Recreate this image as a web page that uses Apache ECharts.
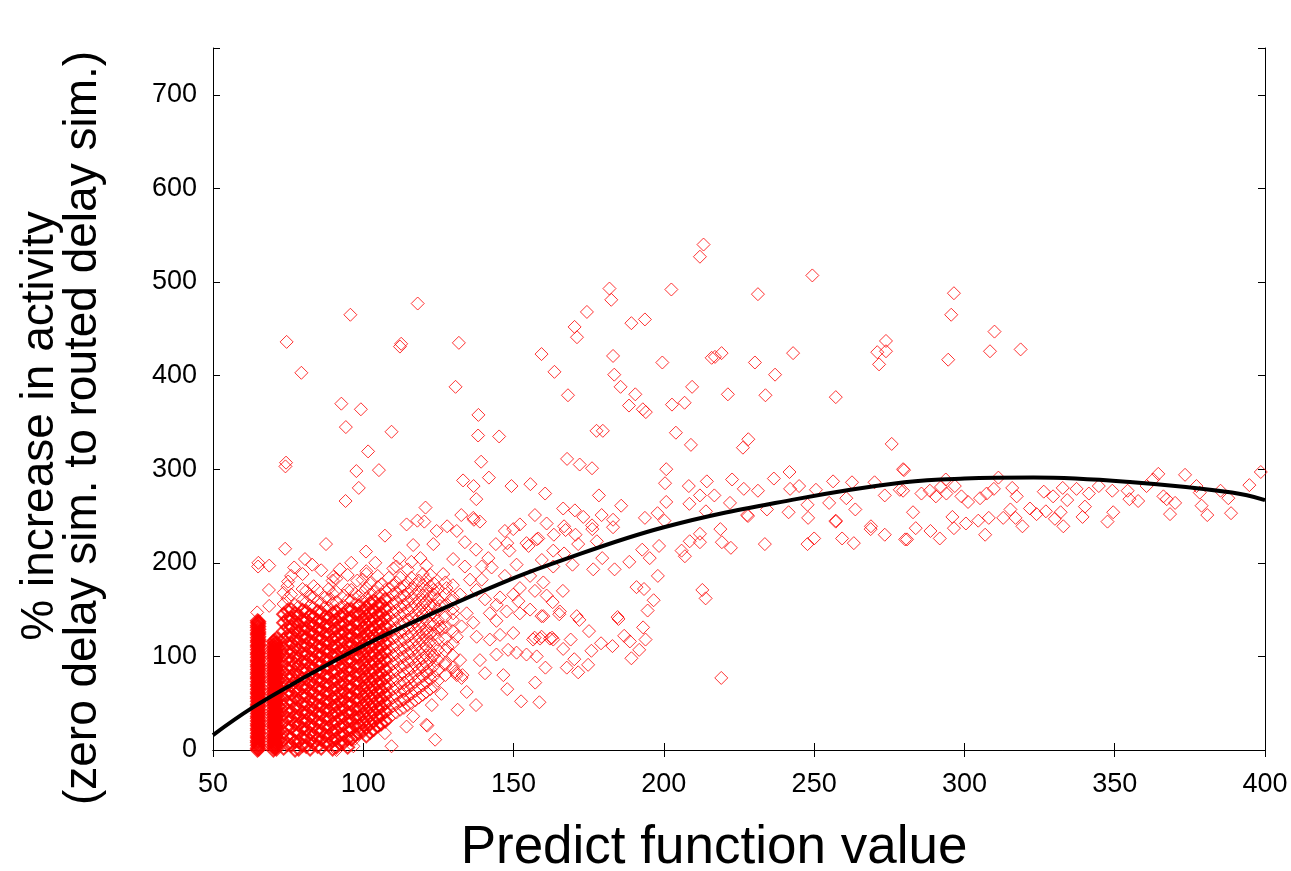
<!DOCTYPE html>
<html>
<head>
<meta charset="utf-8">
<script src="https://cdn.jsdelivr.net/npm/echarts@6/dist/echarts.min.js"></script>
<style>
  html, body { margin: 0; padding: 0; background: #fff; }
  #chart { width: 1291px; height: 871px; }
</style>
</head>
<body>
<div id="chart"></div>
<script>
// axis ticks
var xTicks = [50, 100, 150, 200, 250, 300, 350, 400];
var yTicks = [0, 100, 200, 300, 400, 500, 600, 700];

// the two solid columns of points at the left
var stripeAX = [64.8, 65.2];
var stripeAY = [
  [0, 2, 5, 8, 10, 13, 15, 18, 21, 23, 26, 28, 31, 34, 36, 39, 42, 44, 47, 49, 52, 55, 57, 60,
    62, 65, 68, 70, 73, 76, 78, 81, 83, 86, 89, 91, 94, 96, 99, 102, 104, 107, 110, 112, 115, 117, 120,
    123, 125, 128, 131, 133, 136, 138],
  [1, 4, 6, 9, 12, 14, 17, 19, 22, 25, 27, 30, 32, 35, 38, 40, 43, 46, 48, 51, 53, 56, 59, 61, 64, 66,
    69, 72, 74, 77, 79, 82, 85, 87, 90, 92, 95, 98, 100, 103, 105, 108, 111, 113, 116, 118, 121, 124,
    126, 129, 132, 135, 137]
];
var stripeBX = [70.1, 70.6, 71.1];
var stripeBY = [
  [0, 3, 6, 9, 12, 15, 18, 22, 25, 28, 31, 34, 37, 40, 43, 47, 50, 53, 56, 59, 62, 65, 68, 72, 75, 78, 81,
    84, 87, 90, 93, 97, 100, 103, 106, 109, 112, 116],
  [2, 5, 8, 10, 13, 16, 20, 24, 26, 29, 32, 35, 38, 41, 45, 48, 51, 54, 57, 60, 63, 66, 70, 73, 76, 79, 82,
    85, 88, 91, 95, 98, 101, 104, 107, 110, 114, 117],
  [1, 4, 7, 11, 14, 17, 20, 23, 27, 30, 33, 36, 39, 42, 45, 49, 52, 55, 58, 61, 64, 67, 71, 74, 77, 80, 83,
    86, 89, 92, 96, 99, 102, 105, 108, 111, 114, 119]
];

// dense cloud, read column by column (two interleaved passes)
var cloudX = [73.5, 76, 78.5, 81, 83.5, 86, 88.5, 91, 93.5, 96, 98.5, 101, 103.5, 106, 108.5, 111, 113.5, 116, 118.5, 121, 123.5];
var cloudY = [
  [2, 11, 19, 30, 38, 47, 55, 66, 74, 83, 92, 101, 109, 118, 127, 136, 145, 156, 168],
  [5, 13, 24, 33, 41, 52, 60, 69, 79, 88, 96, 105, 114, 123, 132, 141, 150, 166, 186],
  [1, 9, 18, 27, 36, 44, 53, 63, 71, 80, 90, 98, 107, 116, 126, 134, 144, 153],
  [4, 14, 22, 31, 40, 49, 58, 67, 76, 85, 94, 103, 112, 120, 130, 139, 148, 158, 170],
  [7, 16, 25, 34, 43, 51, 61, 70, 78, 87, 97, 106, 115, 124, 133, 142, 152, 163, 175],
  [2, 11, 20, 29, 38, 47, 56, 65, 74, 83, 92, 101, 110, 119, 128, 137, 147, 157],
  [6, 15, 24, 33, 42, 51, 60, 69, 78, 88, 96, 105, 114, 123, 132, 141, 151, 161, 172],
  [3, 12, 21, 30, 40, 48, 57, 66, 75, 84, 93, 102, 111, 121, 130, 139, 148, 158, 169, 183],
  [8, 17, 27, 36, 45, 54, 63, 72, 81, 90, 99, 108, 117, 126, 135, 145, 154, 165],
  [12, 22, 31, 40, 49, 58, 67, 77, 86, 95, 104, 113, 122, 131, 141, 150, 160, 171],
  [18, 26, 35, 44, 53, 62, 71, 80, 89, 99, 108, 117, 126, 135, 145, 154, 164],
  [15, 24, 33, 42, 51, 60, 69, 78, 88, 97, 106, 115, 124, 134, 143, 152, 162, 173, 188],
  [22, 31, 40, 49, 58, 67, 76, 85, 94, 103, 113, 122, 131, 140, 149, 159, 169],
  [28, 37, 46, 55, 64, 73, 82, 92, 101, 110, 119, 128, 137, 146, 156, 166, 177],
  [34, 43, 52, 61, 70, 79, 88, 97, 106, 116, 125, 134, 143, 152, 162, 172, 184],
  [40, 49, 58, 67, 76, 85, 94, 103, 112, 121, 130, 140, 149, 158, 168, 179, 196],
  [45, 54, 63, 72, 81, 91, 100, 109, 118, 127, 137, 146, 155, 165, 175],
  [50, 60, 69, 78, 87, 96, 105, 114, 124, 133, 142, 152, 162, 172, 184, 201],
  [56, 66, 76, 86, 95, 104, 113, 122, 132, 141, 150, 160, 170, 181],
  [62, 72, 82, 92, 101, 111, 121, 130, 140, 149, 159, 170, 182, 197],
  [68, 79, 90, 101, 112, 123, 134, 144, 155, 166, 178]
];
var cloudX2 = [74.8, 77.3, 79.8, 82.3, 84.8, 87.3, 89.8, 92.3, 94.8, 97.3, 99.8, 102.3, 104.8, 107.3, 109.8, 112.3, 114.8, 117.3, 119.8, 122.3, 124.8, 127.3, 129.8];
var cloudY2 = [
  [6, 15, 24, 34, 42, 51, 60, 70, 79, 87, 97, 105, 113, 122, 131, 140, 149, 162, 175],
  [0, 9, 20, 28, 37, 46, 56, 64, 74, 83, 92, 100, 110, 119, 128, 137, 146, 155],
  [5, 13, 23, 31, 40, 49, 58, 67, 76, 85, 94, 103, 111, 121, 129, 138, 149, 160, 172, 188],
  [1, 10, 18, 27, 36, 45, 54, 63, 72, 81, 90, 99, 108, 117, 126, 135, 144, 154, 164],
  [4, 12, 21, 30, 39, 48, 57, 66, 75, 84, 93, 102, 111, 120, 129, 138, 148, 159, 171],
  [8, 16, 25, 34, 43, 52, 61, 70, 79, 88, 97, 106, 115, 124, 133, 142, 152, 163],
  [1, 10, 19, 28, 37, 46, 55, 64, 73, 83, 92, 101, 110, 118, 127, 137, 146, 156, 167, 181],
  [7, 16, 25, 34, 43, 52, 61, 70, 79, 88, 98, 106, 115, 124, 134, 143, 152],
  [3, 12, 22, 31, 40, 50, 59, 68, 77, 86, 95, 104, 113, 122, 131, 140, 150, 160, 171, 187],
  [16, 26, 35, 44, 54, 63, 72, 81, 90, 100, 109, 118, 127, 136, 146, 156, 167],
  [20, 29, 38, 47, 57, 66, 75, 84, 93, 102, 111, 120, 130, 139, 148, 158, 168, 182],
  [19, 28, 37, 46, 55, 64, 73, 83, 92, 101, 110, 119, 128, 138, 147, 157, 166, 178],
  [26, 35, 44, 53, 62, 71, 80, 89, 98, 108, 117, 126, 135, 144, 154, 164, 174, 186],
  [31, 41, 50, 59, 68, 77, 86, 96, 105, 114, 123, 132, 141, 151, 161, 171],
  [38, 47, 56, 65, 74, 83, 92, 101, 110, 119, 128, 138, 147, 156, 166, 176],
  [43, 52, 62, 71, 80, 89, 98, 107, 116, 126, 135, 144, 153, 163, 173, 184],
  [48, 57, 66, 75, 85, 94, 103, 112, 121, 130, 139, 149, 158, 168, 179, 193],
  [53, 63, 73, 82, 91, 100, 109, 118, 128, 137, 146, 156, 166, 177],
  [59, 69, 79, 89, 98, 108, 117, 126, 136, 145, 155, 165, 176, 188],
  [65, 76, 86, 96, 106, 116, 125, 135, 144, 154, 164, 175, 187],
  [74, 85, 96, 107, 118, 129, 139, 150, 161, 172],
  [80, 93, 106, 119, 131, 142, 154, 166, 179],
  [88, 101, 114, 127, 139, 151, 163, 176]
];

// single points around the cloud
var lowPoints = [
  [65.1, 200], [65, 196], [68.7, 197], [74, 215], [87.6, 220], [80.6, 204], [68.6, 171], [68.7, 154], [64.7, 147],
  [107.2, 229], [92.2, 193], [96, 200], [101, 191], [100.9, 212], [116.6, 219], [118, 245], [109.4, 4],
  [107.2, 18], [114.4, 25], [116.6, 36], [121, 27], [98.4, 22], [96.1, 11], [91.1, 0], [97.2, 12], [96.7, 4],
  [126, 60], [128, 110], [126, 130], [129, 160], [119, 205], [112, 205], [104, 200], [86, 192], [77, 195],
  [113.3, 54], [113.9, 64], [131, 82], [130.6, 84], [83, 198], [90, 185], [75, 180], [98, 181], [110, 194]
];

var midPoints = [
  [136.6, 248], [138.8, 244], [127.9, 239], [131.1, 234], [124.4, 234], [123.3, 220], [133.8, 222], [137.5, 214],
  [152.1, 241], [149.9, 236], [147.1, 234], [147.9, 221], [148.6, 213], [144.1, 220], [154.3, 221], [155, 218],
  [158.2, 226], [141.6, 205], [139.4, 196], [142.7, 195], [151, 198], [163.2, 196], [133.8, 196], [129.9, 204],
  [126.6, 188], [135.5, 182], [139.4, 182], [147.1, 186], [155.5, 186], [159.9, 179], [157.1, 170], [165.4, 148],
  [152.1, 173], [149.9, 166], [151.6, 159], [145.5, 163], [144.4, 155], [140.5, 161], [137.7, 171], [132.2, 166],
  [127.7, 173], [123.3, 171], [120.5, 157], [125.5, 154], [129.9, 146], [134.4, 146], [142.1, 146], [147.7, 148],
  [152.1, 146], [155.5, 150], [171, 143], [159.9, 143], [144.3, 138], [136.6, 136], [132.7, 132], [125.5, 132],
  [121.1, 125], [131.1, 121], [137.7, 121], [142.1, 118], [145.5, 123], [149.9, 125], [156.5, 118], [157, 120],
  [163.2, 118], [162.8, 120], [148.2, 107], [151, 104], [144.3, 102], [138.8, 96], [132.2, 96], [127.2, 91],
  [122.8, 100], [121.1, 84], [131.1, 80], [132.7, 77], [133, 80], [140.5, 82], [146.6, 80], [154.3, 102],
  [147.9, 65], [152.5, 52], [134.4, 62], [131.4, 43], [137.5, 48], [122.8, 48], [121.3, 26], [123.9, 11],
  [163.4, 230], [167.3, 235], [170.6, 230], [171.5, 220], [176.2, 236], [177.7, 223], [183.1, 238], [157.7, 225],
  [163.2, 213], [166.8, 210], [159.4, 203], [169.6, 198], [176.5, 193], [179.5, 205], [183.6, 193], [188.5, 201],
  [192.8, 214], [195.3, 205], [198.4, 218], [200.2, 245], [205.9, 213], [207, 207], [208.6, 223], [212, 231],
  [212, 222], [218.8, 236], [219.3, 222], [222.3, 216], [233.6, 220], [247.8, 220], [250, 226], [257.2, 244],
  [259.3, 226], [263.2, 221], [268.8, 236], [273.5, 230], [280.3, 225], [228, 250], [198, 186], [190.9, 174],
  [193.4, 172], [212.8, 171], [213.9, 162], [196.6, 160], [194.6, 149], [184.6, 142], [184.9, 140], [171.9, 139],
  [166.4, 170], [161, 165], [163, 158], [165.2, 145], [159.3, 143], [175.1, 127], [169, 118], [162.1, 119],
  [158.8, 119], [159.3, 121], [179.1, 114], [182.9, 111], [186.8, 122], [188.7, 116], [193.1, 131], [193.9, 118],
  [191.8, 107], [189.2, 98], [175.9, 106], [166.5, 108], [170.2, 97], [167.7, 88], [171.5, 83], [174.8, 91],
  [160.6, 88], [157.7, 100], [157.2, 72], [158.6, 51], [219.1, 77]
];

var highPoints = [
  [74.5, 436], [79.4, 403], [95.7, 465], [118.1, 477], [112.2, 431], [112.6, 434], [131.8, 435], [159.3, 423],
  [130.7, 388], [92.7, 370], [99.2, 364], [94.2, 345], [109.4, 340], [138.3, 358], [138.2, 336], [145.2, 335],
  [101.6, 319], [74.1, 303], [74.3, 307], [97.7, 298], [105.2, 299], [139.2, 308], [98.5, 280], [94.1, 266],
  [133.2, 288], [136.7, 282], [141.8, 291], [137.6, 268], [149.3, 282], [155.6, 284], [160.5, 274], [120.7, 259],
  [114.4, 241], [120.3, 244], [132.6, 251], [136.8, 246], [157.1, 251],
  [213.2, 540], [212, 527], [249.4, 507], [181.9, 493], [182.5, 481], [202.5, 492], [231.3, 487], [174.4, 468],
  [170.3, 452], [171.1, 441], [189.2, 456], [193.7, 460], [163.6, 404], [168.1, 379], [183.1, 421], [183.5, 401],
  [185.6, 388], [190.5, 380], [188.4, 368], [193, 364], [194, 361], [199.5, 414], [215.9, 419], [217, 420],
  [219.2, 424], [230.3, 414], [243, 424], [237, 401], [209.4, 388], [221.3, 380], [233.8, 379], [202.7, 369],
  [206.9, 371], [257.2, 377], [273.9, 437], [271, 425], [273.9, 426], [271.6, 412], [177.6, 341], [179.7, 341],
  [204, 339], [209, 326], [228.1, 332], [226.3, 323], [275.8, 327], [167.8, 311], [172, 305], [176.1, 301],
  [200.8, 300], [200.4, 285], [208.3, 282], [214.3, 287], [222.7, 289], [236.6, 290], [241.8, 297], [279.6, 300],
  [178.4, 272], [185.8, 261], [212, 272], [216.8, 272], [226.6, 279], [231.3, 277], [242, 279], [245, 282],
  [250.6, 278], [256.3, 287], [262.6, 286], [270.1, 286], [273.5, 272], [278.5, 278], [208.5, 263], [200.8, 265],
  [197.9, 253], [193.7, 248], [214, 255], [222, 264], [227.7, 251], [234.3, 257], [241.5, 254], [247.8, 262],
  [255, 264], [260.7, 269], [263.7, 257], [268.9, 239], [257.2, 245], [248, 248], [161, 242], [166.5, 258],
  [170.4, 256], [173.2, 249], [179.3, 251], [183.1, 246], [176.1, 240], [166.8, 239]
];

var rightPoints = [
  [296.5, 488], [295.6, 465], [310, 447], [308.5, 426], [318.7, 428], [294.6, 417], [279.9, 299], [279.6, 277],
  [285.7, 274], [288.5, 277], [290.5, 271], [292.2, 281], [294, 274], [293.8, 289], [296.8, 282], [299, 271],
  [301.2, 265], [305.2, 269], [307.4, 274], [309.8, 279], [311.3, 291], [315.9, 280], [317.4, 271], [282.9, 254],
  [283.8, 237], [280.9, 225], [288.7, 234], [291.8, 226], [296, 249], [296.5, 237], [300.5, 242], [304.6, 245],
  [306.9, 230], [308.1, 248], [312.9, 248], [315.3, 257], [317, 248], [319.3, 239], [321.8, 258], [324, 252],
  [326.4, 276], [327.1, 255], [329.5, 271], [330.1, 247], [332, 254], [332.7, 280], [332.9, 239], [334.2, 267],
  [337.3, 279], [339.3, 249], [340.1, 260], [341.4, 274], [344.7, 282], [347.6, 244], [349.5, 254], [349.2, 277],
  [354.3, 277], [354.9, 268], [357.8, 266], [360.6, 282], [362.8, 289], [364.5, 295], [366.2, 271], [367.3, 268],
  [368.4, 252], [370.1, 264], [373.4, 294], [377.2, 282], [378.3, 275], [378.9, 261], [380.8, 251], [385.2, 277],
  [387.8, 269], [388.7, 253], [394.8, 283], [398.6, 297]
];

// fitted curve
var fitX = [50, 63, 79, 101, 123, 145, 162, 200, 244, 280, 300, 323, 356, 389, 400];
var fitY = [16, 45, 75, 113, 146, 177, 198, 238, 268, 286, 290, 291, 286, 275, 267];

var densePoints = [];
var sparsePoints = lowPoints.concat(midPoints, highPoints, rightPoints);
// inside the packed core the outlines merge into solid red; elsewhere they stay apart
function addColumns(xs, ys) {
  xs.forEach(function (x, i) {
    ys[i].forEach(function (y) {
      var top = x < 95 ? 150 : 150 + (x - 95) * 1.2;
      (x < 108 && y <= top ? densePoints : sparsePoints).push([x, y]);
    });
  });
}
addColumns(stripeAX, stripeAY);
addColumns(stripeBX, stripeBY);
addColumns(cloudX, cloudY);
addColumns(cloudX2, cloudY2);

var fitLine = fitX.map(function (x, i) { return [x, fitY[i]]; });

var font = '"Liberation Sans", Arial, Helvetica, sans-serif';

var chart = echarts.init(document.getElementById('chart'));
var axisCommon = {
  axisLine: { show: true, lineStyle: { color: '#000', width: 1 } },
  axisTick: { show: true, inside: true, length: 7, lineStyle: { color: '#000', width: 1 } },
  splitLine: { show: false }
};

chart.setOption({
  animation: false,
  backgroundColor: '#fff',
  grid: { left: 213, right: 26, top: 48, bottom: 121 },
  xAxis: [
    Object.assign({
      type: 'value', min: xTicks[0], max: xTicks[xTicks.length - 1], interval: 50, position: 'bottom',
      axisLabel: { color: '#000', fontSize: 27, fontFamily: font, margin: 21 }
    }, axisCommon),
    Object.assign({
      type: 'value', min: xTicks[0], max: xTicks[xTicks.length - 1], interval: 50, position: 'top',
      axisLabel: { show: false }
    }, axisCommon)
  ],
  yAxis: [
    Object.assign({
      type: 'value', min: 0, max: 750, interval: 100, position: 'left',
      axisLabel: {
        color: '#000', fontSize: 27, fontFamily: font, margin: 16,
        formatter: function (v) { return yTicks.indexOf(v) >= 0 ? String(v) : ''; }
      }
    }, axisCommon),
    Object.assign({
      type: 'value', min: 0, max: 750, interval: 100, position: 'right',
      axisLabel: { show: false }
    }, axisCommon)
  ],
  graphic: [
    {
      type: 'text', x: 714, y: 848,
      style: { text: 'Predict function value', font: '53px ' + font, fill: '#000', textAlign: 'center', textVerticalAlign: 'middle' }
    },
    {
      type: 'text', x: 40, y: 426, rotation: Math.PI / 2,
      style: { text: '% increase in activity', font: '46px ' + font, fill: '#000', textAlign: 'center', textVerticalAlign: 'middle' }
    },
    {
      type: 'text', x: 83, y: 428, rotation: Math.PI / 2,
      style: { text: '(zero delay sim. to routed delay sim.)', font: '46px ' + font, fill: '#000', textAlign: 'center', textVerticalAlign: 'middle' }
    }
  ],
  series: [
    {
      type: 'scatter',
      data: densePoints,
      symbol: 'diamond',
      symbolSize: 13,
      progressive: 0,
      itemStyle: { color: 'rgba(255,0,0,0)', borderColor: '#ff0000', borderWidth: 2 },
      z: 2
    },
    {
      type: 'scatter',
      data: sparsePoints,
      symbol: 'diamond',
      symbolSize: 13,
      progressive: 0,
      itemStyle: { color: 'rgba(255,0,0,0)', borderColor: '#ff0000', borderWidth: 1 },
      z: 2
    },
    {
      type: 'line',
      data: fitLine,
      smooth: 0.4,
      showSymbol: false,
      lineStyle: { color: '#000', width: 4 },
      z: 3
    }
  ]
});
</script>
</body>
</html>
